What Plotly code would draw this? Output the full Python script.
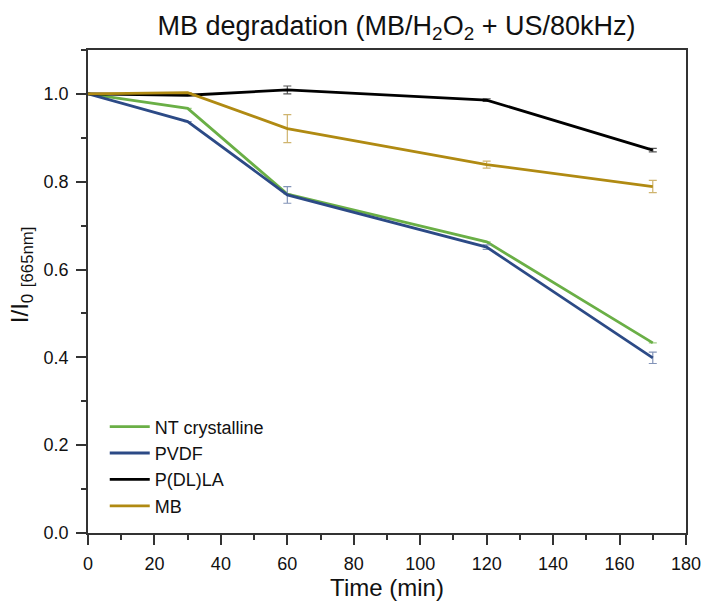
import plotly.graph_objects as go

time_min = [0, 30, 60, 120, 170]

nt_cryst = [1.000, 0.967, 0.772, 0.663, 0.433]
nt_cryst_err = [0, 0, 0, 0, 0]

pvdf = [1.000, 0.937, 0.770, 0.651, 0.399]
pvdf_err = [0, 0, 0.019, 0.005, 0.013]

pdlla = [1.000, 0.997, 1.009, 0.986, 0.872]
pdlla_err = [0, 0, 0.009, 0.003, 0.004]

mb = [1.000, 1.003, 0.921, 0.839, 0.789]
mb_err = [0, 0, 0.032, 0.008, 0.014]

series = [
    ("NT crystalline", nt_cryst, nt_cryst_err, "#6aaf46", "#9fcf86"),
    ("PVDF", pvdf, pvdf_err, "#2c4a86", "#8394b8"),
    ("P(DL)LA", pdlla, pdlla_err, "#000000", "#555555"),
    ("MB", mb, mb_err, "#b08a12", "#cfb46e"),
]

FONT = "Liberation Sans, Arial, sans-serif"

fig = go.Figure()
for name, vals, errs, col, ecol in series:
    fig.add_trace(go.Scatter(
        x=time_min, y=vals, name=name, mode="lines",
        line=dict(color=col, width=2.8),
        error_y=dict(type="data", array=errs, visible=True, color=ecol,
                     thickness=1.2, width=4),
    ))

axis_common = dict(
    showline=True, linecolor="#333333", linewidth=1.5, mirror=True,
    ticks="outside", ticklen=10, tickwidth=1.5, tickcolor="#333333",
    showgrid=False, zeroline=False, automargin=False,
    ticklabelstandoff=4,
    tickfont=dict(family=FONT, size=18, color="#111111"),
)

fig.update_xaxes(
    range=[0, 180], dtick=20, tick0=0,
    minor=dict(ticks="outside", dtick=10, ticklen=5, tickwidth=1.5, tickcolor="#333333"),
    title=dict(text="Time (min)", font=dict(family=FONT, size=24, color="#111111"), standoff=4),
    **axis_common,
)
fig.update_yaxes(
    range=[0, 1.1], dtick=0.2, tick0=0, tickformat=".1f",
    minor=dict(ticks="outside", dtick=0.1, ticklen=5, tickwidth=1.5, tickcolor="#333333"),
    title=dict(text="&nbsp;&nbsp;&nbsp;&nbsp;&nbsp;I/I<sub>0</sub> <sub>[665nm]</sub>",
               font=dict(family=FONT, size=24, color="#111111"), standoff=8),
    **axis_common,
)

fig.update_layout(
    width=703, height=601,
    margin=dict(l=88, r=17, t=50, b=68),
    paper_bgcolor="white", plot_bgcolor="white",
    title=dict(text="MB degradation (MB/H<sub>2</sub>O<sub>2</sub> + US/80kHz)",
               x=0.564, xanchor="center", y=0.974, yanchor="top",
               font=dict(family=FONT, size=27, color="#111111")),
    legend=dict(x=0.028, y=0.258, xanchor="left", yanchor="top",
                bgcolor="rgba(0,0,0,0)",
                font=dict(family=FONT, size=18, color="#111111"),
                tracegroupgap=0, itemwidth=40),
    showlegend=True,
)

fig.write_html("out.html")
